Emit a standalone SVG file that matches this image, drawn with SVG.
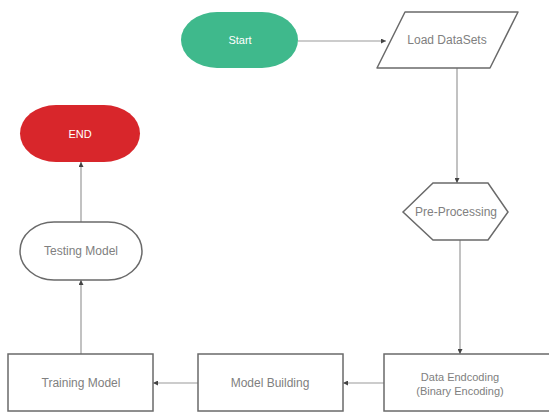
<svg xmlns="http://www.w3.org/2000/svg" width="549" height="412" viewBox="0 0 549 412">
<defs>
<style>
.shape{fill:#fff;stroke:#6a6a6a;stroke-width:1.5}
.lbl{font-family:"Liberation Sans",Arial,sans-serif;font-size:12px;fill:#808080;text-anchor:middle;dominant-baseline:central}
.wlbl{font-family:"Liberation Sans",Arial,sans-serif;font-size:11px;fill:#fff;text-anchor:middle;dominant-baseline:central}
.conn{fill:none;stroke:#999;stroke-width:1.2;marker-end:url(#arr)}
</style>
<marker id="arr" viewBox="0 0 10 10" refX="10" refY="5" markerWidth="5" markerHeight="5" orient="auto" markerUnits="userSpaceOnUse">
<path d="M0,0 L10,5 L0,10 z" fill="#444"/>
</marker>
</defs>
<rect width="549" height="412" fill="#fff"/>
<g id="connectors">
<line class="conn" x1="298" y1="41" x2="386" y2="41"/>
<line class="conn" x1="457" y1="68" x2="457" y2="183"/>
<line class="conn" x1="460" y1="240" x2="460" y2="354"/>
<line class="conn" x1="384" y1="383" x2="343" y2="383"/>
<line class="conn" x1="198" y1="383" x2="153" y2="383"/>
<line class="conn" x1="81" y1="354" x2="81" y2="280"/>
<line class="conn" x1="81" y1="222" x2="81" y2="162"/>
</g>
<g id="start">
<rect x="181" y="12" width="117" height="56" rx="36" ry="28" fill="#3fb98c"/>
<text class="wlbl" x="240" y="40">Start</text>
</g>
<g id="load">
<path class="shape" d="M405,12 L518,12 L490,68 L377,68 Z" stroke-linejoin="round"/>
<text class="lbl" x="447" y="40">Load DataSets</text>
</g>
<g id="preprocessing">
<polygon class="shape" points="403,212 433,183 488,183 508,212 488,240 433,240"/>
<text class="lbl" x="456" y="212">Pre-Processing</text>
</g>
<g id="encoding">
<rect class="shape" x="384" y="354" width="170" height="57"/>
<text class="lbl" x="460" y="377" style="font-size:11px">Data Endcoding</text>
<text class="lbl" x="460" y="391" style="font-size:11px">(Binary Encoding)</text>
</g>
<g id="building">
<rect class="shape" x="198" y="354" width="145" height="57"/>
<text class="lbl" x="270" y="383">Model Building</text>
</g>
<g id="training">
<rect class="shape" x="8" y="354" width="145" height="57"/>
<text class="lbl" x="81" y="383">Training Model</text>
</g>
<g id="testing">
<rect class="shape" x="20" y="222" width="122" height="58" rx="34" ry="29"/>
<text class="lbl" x="81" y="251">Testing Model</text>
</g>
<g id="end">
<rect x="20" y="105" width="120" height="57" rx="36" ry="28.5" fill="#d8262b"/>
<text class="wlbl" x="80" y="134">END</text>
</g>
</svg>
